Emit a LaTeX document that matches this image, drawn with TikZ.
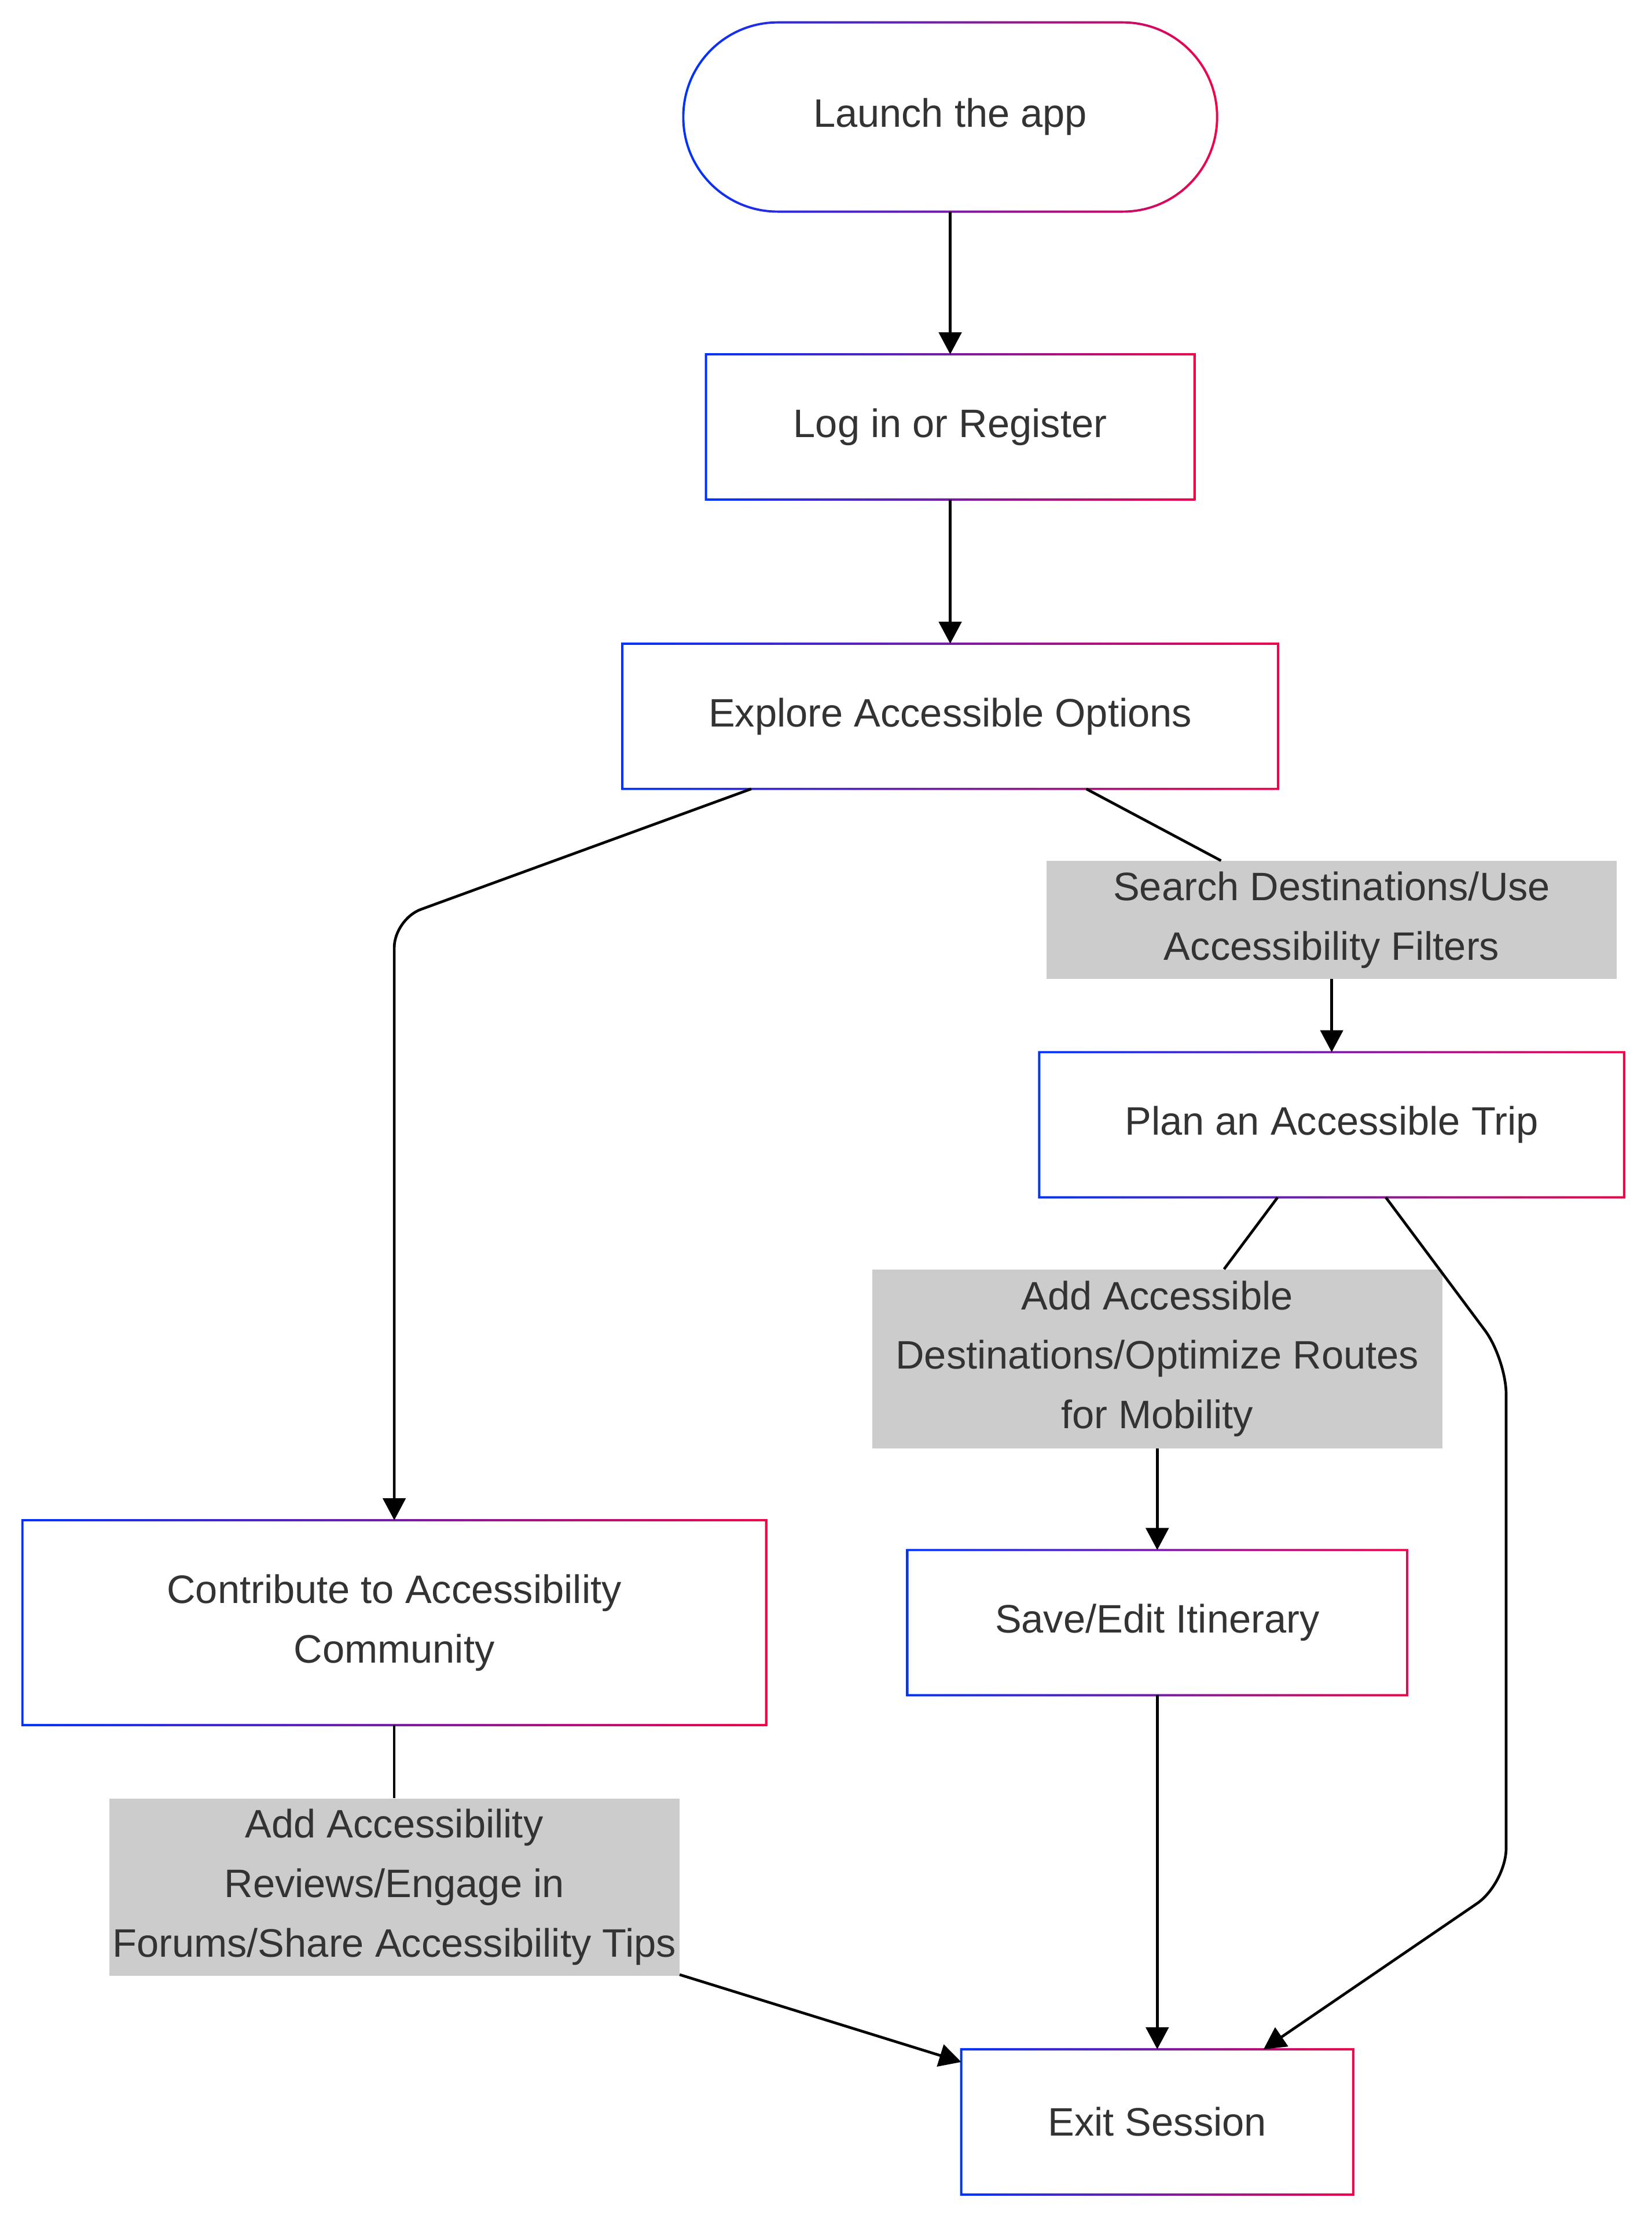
\documentclass[tikz,border=0pt]{standalone}
\usepackage{fontspec}
\setmainfont{Liberation Sans}
\usetikzlibrary{calc}
\usetikzlibrary{arrows.meta}
\usetikzlibrary{positioning}

\definecolor{frameblue}{HTML}{0033FF}
\definecolor{framered}{HTML}{F0044A}
\definecolor{labelgray}{HTML}{CCCCCC}
\definecolor{textgray}{HTML}{333333}

\tikzset{
  stepbox/.style={rectangle, fill=white, minimum height=102pt, inner sep=0pt,
    text=textgray, font=\fontsize{28}{42}\selectfont, align=center},
  startbox/.style={stepbox, rounded corners=66.5pt, minimum height=133pt},
  edgelabel/.style={rectangle, fill=labelgray, inner sep=0pt,
    text=textgray, font=\fontsize{28}{42}\selectfont, align=center},
  flow/.style={line width=1.9pt, -{Triangle[length=15.5pt,width=16pt]}},
  plain/.style={line width=1.9pt},
}

\newcommand{\gradframe}[1]{%
  \shade[left color=frameblue, right color=framered, even odd rule]
    ($(#1.north west)+(-0.8,-0.8)$) rectangle ($(#1.south east)+(0.8,0.8)$)
    ($(#1.north west)+(0.8,0.8)$) rectangle ($(#1.south east)+(-0.8,-0.8)$);
}

\begin{document}
\begin{tikzpicture}[x=1pt, y=-1pt]
    \useasboundingbox (0,0) rectangle (1164.6,1567.3);

    \node[startbox, minimum width=376pt] (launch) at (670,82.5) {Launch the app};
    \node[stepbox, minimum width=344pt] (login) at (670,301) {Log in or Register};
    \node[stepbox, minimum width=462pt] (explore) at (670,505) {Explore Accessible Options};
    \node[edgelabel, minimum width=402pt, minimum height=83pt] (search) at (939,648.5)
      {Search Destinations/Use\\Accessibility Filters};
    \node[stepbox, minimum width=412pt] (plan) at (939,793) {Plan an Accessible Trip};
    \node[edgelabel, minimum width=402pt, minimum height=126pt] (optimize) at (816,958)
      {Add Accessible\\Destinations/Optimize Routes\\for Mobility};
    \node[stepbox, minimum width=352pt] (itinerary) at (816,1144) {Save/Edit Itinerary};
    \node[stepbox, minimum width=524pt, minimum height=144pt] (contribute) at (278,1144)
      {Contribute to Accessibility\\Community};
    \node[edgelabel, minimum width=402pt, minimum height=125pt] (reviews) at (278,1330.5)
      {Add Accessibility\\Reviews/Engage in\\Forums/Share Accessibility Tips};
    \node[stepbox, minimum width=276pt] (exit) at (816,1496) {Exit Session};

    \shade[left color=frameblue, right color=framered, even odd rule]
      [rounded corners=67.3pt] ($(launch.north west)+(-0.8,-0.8)$) rectangle ($(launch.south east)+(0.8,0.8)$)
      [rounded corners=65.7pt] ($(launch.north west)+(0.8,0.8)$) rectangle ($(launch.south east)+(-0.8,-0.8)$);
    \gradframe{login}
    \gradframe{explore}
    \gradframe{plan}
    \gradframe{itinerary}
    \gradframe{contribute}
    \gradframe{exit}

    \coordinate (bendleft) at (278,648);
    \coordinate (bendtop) at (1062,958);
    \coordinate (bendbottom) at (1062,1328);

    \draw[flow] (launch) -- (login);
    \draw[flow] (login) -- (explore);
    \draw[flow, rounded corners=20pt] (explore) -- (bendleft) -- (contribute);
    \draw[plain] (explore) -- (search);
    \draw[flow] (search) -- (plan);
    \draw[plain] (plan) -- (optimize);
    \draw[flow] (optimize) -- (itinerary);
    \draw[flow] (itinerary) -- (exit);
    \draw[flow, rounded corners=25pt] (plan) -- (bendtop) -- (bendbottom) -- (exit);
    \draw[plain] (contribute) -- (reviews);
    \draw[flow] (reviews) -- (exit);
\end{tikzpicture}
\end{document}
